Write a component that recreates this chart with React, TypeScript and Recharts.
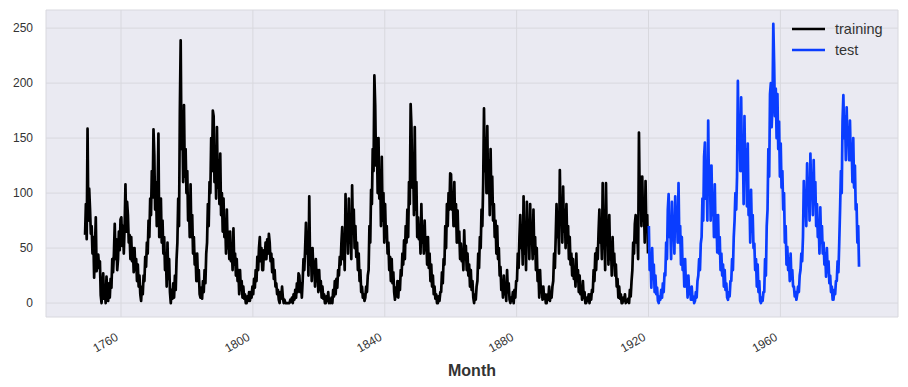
import React from "react";
import { LineChart, Line, XAxis, YAxis, CartesianGrid, Legend } from "recharts";

// Monthly sunspot numbers (4 per year)
const TRAIN_START = 1749;
const TEST_START = 1920;
const SAMPLES_PER_YEAR = 4;

const trainingValues: number[] = [
  62, 90, 58, 158.6, 75, 104, 86, 63, 70, 45, 60, 23, 50, 78, 29, 40, 44, 32, 38, 7,
  0, 14, 27, 4, 11, 0, 24, 8, 2, 18, 5, 22, 14, 40, 28, 45, 72, 40, 58, 30,
  40, 65, 48, 76, 78, 52, 70, 45, 70, 108, 65, 92, 80, 55, 62, 40, 60, 38, 50, 28,
  50, 30, 40, 20, 35, 15, 25, 8, 2, 15, 8, 25, 20, 42, 33, 55, 45, 75, 60, 95,
  80, 120, 96, 158, 135, 85, 110, 70, 100, 154, 60, 80, 95, 55, 75, 45, 60, 30, 45, 15,
  55, 22, 40, 10, 0, 12, 4, 18, 5, 25, 12, 40, 55, 95, 70, 175, 239, 140, 170, 110,
  180, 115, 140, 100, 120, 75, 95, 60, 108, 60, 80, 45, 60, 35, 45, 20, 45, 20, 30, 8,
  5, 14, 4, 20, 10, 30, 18, 45, 55, 90, 70, 110, 100, 150, 120, 175, 170, 110, 140, 95,
  160, 105, 130, 90, 136, 80, 100, 65, 95, 60, 75, 45, 85, 50, 65, 40, 65, 38, 50, 30,
  68, 35, 45, 25, 40, 20, 30, 8, 30, 12, 20, 5, 15, 4, 8, 0, 0, 6, 2, 10,
  2, 10, 5, 15, 8, 22, 14, 30, 20, 42, 30, 50, 60, 38, 50, 30, 30, 48, 40, 55,
  40, 58, 45, 63, 55, 38, 45, 28, 40, 22, 30, 15, 18, 8, 12, 3, 0, 10, 4, 15,
  5, 0, 3, 0, 0, 0, 0, 0, 0, 3, 1, 5, 0, 8, 3, 12, 5, 18, 10, 27,
  25, 10, 18, 5, 20, 40, 30, 50, 73, 45, 60, 25, 97, 35, 50, 20, 50, 28, 38, 15,
  40, 20, 30, 10, 30, 12, 20, 5, 15, 4, 8, 0, 0, 6, 2, 10, 0, 3, 0, 5,
  0, 12, 6, 20, 8, 22, 14, 30, 25, 42, 35, 55, 69, 40, 55, 30, 99, 60, 75, 45,
  95, 55, 70, 40, 107, 65, 85, 50, 70, 42, 55, 30, 45, 20, 30, 10, 15, 5, 8, 2,
  5, 15, 10, 25, 30, 70, 55, 103, 90, 140, 120, 207, 180, 125, 150, 100, 150, 95, 120, 70,
  133, 75, 100, 55, 90, 60, 70, 45, 55, 30, 42, 20, 40, 18, 28, 10, 3, 14, 6, 20,
  5, 20, 12, 30, 25, 45, 35, 57, 40, 70, 55, 85, 60, 110, 90, 181, 160, 105, 130, 80,
  160, 85, 110, 60, 78, 58, 70, 45, 90, 55, 70, 45, 75, 48, 60, 35, 60, 32, 45, 20,
  35, 15, 25, 8, 15, 4, 8, 0, 0, 6, 2, 10, 10, 28, 18, 40, 35, 70, 50, 90,
  70, 100, 85, 118, 117, 85, 100, 70, 110, 70, 90, 55, 84, 55, 65, 40, 54, 38, 45, 30,
  66, 40, 52, 30, 45, 25, 35, 15, 30, 12, 20, 5, 0, 8, 3, 15, 20, 45, 32, 60,
  50, 85, 70, 109, 177, 120, 150, 100, 161, 100, 130, 80, 140, 90, 115, 75, 90, 60, 75, 45,
  70, 40, 50, 25, 33, 12, 20, 5, 25, 8, 14, 2, 30, 10, 18, 3, 0, 5, 2, 10,
  0, 12, 5, 20, 20, 45, 32, 60, 80, 50, 65, 35, 97, 45, 70, 30, 92, 55, 75, 40,
  90, 55, 70, 40, 85, 45, 60, 30, 50, 20, 30, 5, 30, 10, 15, 3, 15, 4, 8, 0,
  0, 8, 3, 15, 2, 10, 5, 15, 20, 45, 32, 60, 90, 60, 75, 45, 121, 75, 95, 55,
  106, 65, 85, 50, 90, 55, 70, 40, 60, 35, 45, 25, 40, 22, 30, 15, 45, 20, 30, 10,
  25, 8, 15, 3, 20, 5, 10, 0, 0, 5, 2, 8, 0, 8, 3, 12, 10, 30, 20, 45,
  30, 50, 40, 65, 85, 55, 70, 40, 109, 50, 70, 30, 109, 55, 75, 35, 80, 40, 55, 25,
  60, 35, 45, 25, 35, 15, 22, 5, 15, 4, 8, 0, 0, 5, 2, 8, 0, 2, 1, 4,
  0, 12, 6, 20, 30, 55, 45, 72, 80, 55, 65, 40, 155, 90, 115, 70, 115, 75, 90, 55,
  111, 65, 80, 45,
];

const testValues: number[] = [
  70, 30, 45, 14, 50, 22, 35, 10, 25, 8, 14, 2, 0, 6, 3, 12, 5, 18, 10, 27,
  25, 55, 40, 85, 99, 60, 75, 40, 92, 60, 75, 45, 97, 70, 85, 55, 109, 55, 70, 35,
  60, 30, 40, 15, 40, 15, 25, 5, 25, 8, 14, 3, 15, 3, 6, 0, 2, 10, 5, 20,
  25, 40, 30, 54, 60, 95, 75, 133, 146, 95, 120, 75, 166, 100, 125, 75, 125, 80, 100, 60,
  108, 60, 80, 46, 80, 45, 60, 30, 45, 25, 35, 15, 30, 12, 18, 5, 3, 10, 6, 20,
  20, 40, 30, 60, 75, 100, 85, 115, 202, 140, 165, 120, 187, 120, 150, 90, 170, 115, 140, 88,
  145, 80, 100, 55, 103, 65, 80, 50, 54, 30, 40, 15, 35, 10, 20, 2, 0, 5, 2, 10,
  10, 40, 25, 70, 85, 140, 115, 190, 200, 160, 180, 254, 218, 170, 195, 150, 190, 140, 165, 115,
  145, 105, 120, 85, 100, 55, 70, 35, 51, 30, 40, 20, 45, 22, 30, 15, 15, 6, 10, 3,
  8, 15, 10, 25, 30, 45, 38, 60, 111, 85, 95, 70, 127, 90, 110, 75, 136, 100, 115, 80,
  130, 90, 110, 70, 90, 60, 75, 45, 87, 55, 70, 45, 55, 35, 45, 24, 50, 28, 38, 18,
  25, 10, 15, 3, 3, 12, 8, 20, 20, 38, 28, 55, 85, 120, 100, 166, 189, 150, 170, 130,
  178, 145, 160, 130, 166, 130, 145, 110, 150, 105, 125, 85, 90, 55, 70, 33,
];

const xTicks = [1760, 1800, 1840, 1880, 1920, 1960];
const yTicks = [0, 50, 100, 150, 200, 250];
const seriesNames = ["training", "test"];
const seriesColors = ["#000000", "#0a3dff"];

type Row = { month: number; training?: number; test?: number };
const rows: Row[] = [];
trainingValues.forEach((v, i) =>
  rows.push({ month: TRAIN_START + 0.1 + i / SAMPLES_PER_YEAR, training: v })
);
testValues.forEach((v, i) =>
  rows.push({ month: TEST_START + 0.1 + i / SAMPLES_PER_YEAR, test: v })
);

const FONT = "'Liberation Sans', Arial, Helvetica, sans-serif";
const TEXT = "#333333";

const XTick = (props: any) => {
  const { x, y, payload } = props;
  const ax = x - 2;
  const ay = y + 22.5;
  return (
    <text
      x={ax}
      y={ay}
      transform={`rotate(-30 ${ax} ${ay})`}
      textAnchor="end"
      fontSize={12}
      fontFamily={FONT}
      fill={TEXT}
    >
      {payload.value}
    </text>
  );
};

const YTick = (props: any) => {
  const { x, y, payload } = props;
  return (
    <text x={x} y={y} dy={4.3} textAnchor="end" fontSize={12} fontFamily={FONT} fill={TEXT}>
      {payload.value}
    </text>
  );
};

const renderLegend = () => (
  <svg width={120} height={50} style={{ overflow: "visible" }}>
    {seriesNames.map((name, i) => (
      <g key={name} transform={`translate(0 ${i * 21})`}>
        <line x1={0} x2={33} y1={11} y2={11} stroke={seriesColors[i]} strokeWidth={2.6} />
        <text x={43} y={16} fontSize={14.5} fontFamily={FONT} fill={TEXT}>
          {name}
        </text>
      </g>
    ))}
  </svg>
);

export default function App() {
  return (
    <div style={{ width: 908, height: 387, background: "#ffffff", position: "relative" }}>
      <style>{"body{margin:0}"}</style>
      <LineChart width={908} height={387} data={rows} margin={{ top: 10, right: 10, bottom: 0, left: 0 }}>
        <CartesianGrid fill="#EAEAF2" stroke="#d8d8de" strokeWidth={1} />
        <XAxis
          dataKey="month"
          type="number"
          domain={[1737.25, 1995.67]}
          ticks={xTicks}
          interval={0}
          allowDataOverflow
          axisLine={false}
          tickLine={false}
          tickSize={0}
          tickMargin={0}
          height={70}
          tick={<XTick />}
          label={{
            value: "Month",
            position: "insideBottom",
            offset: 11.5,
            style: { fontSize: 16, fontWeight: "bold", fontFamily: FONT, fill: TEXT },
          }}
        />
        <YAxis
          type="number"
          domain={[-12.69, 266.5]}
          ticks={yTicks}
          interval={0}
          allowDataOverflow
          width={46}
          axisLine={false}
          tickLine={false}
          tickSize={0}
          tickMargin={13}
          tick={<YTick />}
        />
        <Line
          dataKey="training"
          stroke={seriesColors[0]}
          strokeWidth={2.7}
          dot={false}
          activeDot={false}
          isAnimationActive={false}
          connectNulls={false}
          strokeLinejoin="round"
        />
        <Line
          dataKey="test"
          stroke={seriesColors[1]}
          strokeWidth={2.7}
          dot={false}
          activeDot={false}
          isAnimationActive={false}
          connectNulls={false}
          strokeLinejoin="round"
        />
        <Legend
          layout="horizontal"
          verticalAlign="middle"
          align="center"
          content={renderLegend}
          wrapperStyle={{ left: 792, top: 18, width: 120, height: 50 }}
        />
      </LineChart>
    </div>
  );
}
